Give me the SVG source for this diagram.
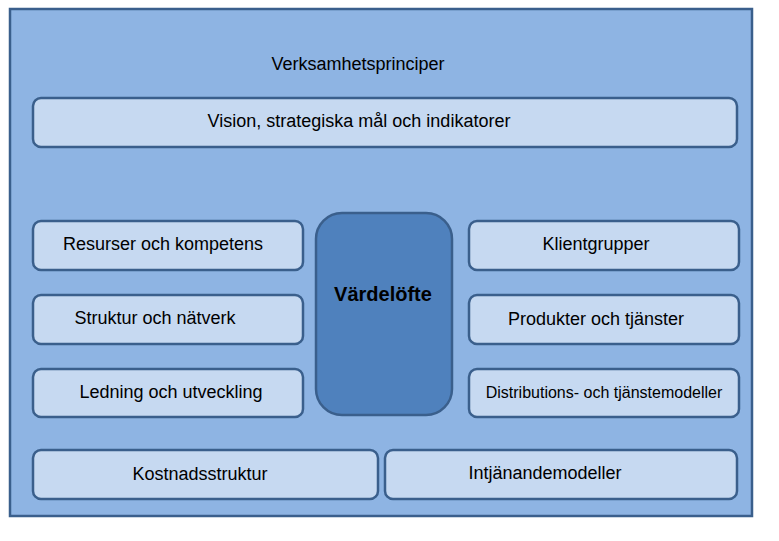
<svg xmlns="http://www.w3.org/2000/svg" width="779" height="541" viewBox="0 0 779 541">
<style>
text{font-family:"Liberation Sans",Arial,sans-serif;font-size:18px;fill:#000;text-anchor:middle}
.b{fill:#c6d9f1;stroke:#3a5f8c;stroke-width:2.5}
</style>
<rect width="779" height="541" fill="#fff"/>
<g id="frame"><rect x="10" y="9" width="742" height="507" fill="#8eb4e3" stroke="#3a5f8c" stroke-width="2.5"/>
<text x="358" y="70">Verksamhetsprinciper</text></g>
<g id="vision"><rect class="b" x="33" y="98" width="704" height="49" rx="8"/><text x="359" y="127">Vision, strategiska mål och indikatorer</text></g>
<g id="resurser"><rect class="b" x="33" y="221" width="270" height="49" rx="8"/><text x="163" y="250">Resurser och kompetens</text></g>
<g id="struktur"><rect class="b" x="33" y="295" width="270" height="49" rx="8"/><text x="155" y="324">Struktur och nätverk</text></g>
<g id="ledning"><rect class="b" x="33" y="369" width="270" height="48" rx="8"/><text x="171" y="398">Ledning och utveckling</text></g>
<g id="vardelofte"><rect x="316" y="213" width="136" height="202" rx="26" fill="#4f81bd" stroke="#3a5f8c" stroke-width="2.5"/><text x="383" y="301" style="font-weight:bold;font-size:20px">Värdelöfte</text></g>
<g id="klient"><rect class="b" x="469" y="221" width="270" height="49" rx="8"/><text x="596" y="250">Klientgrupper</text></g>
<g id="produkter"><rect class="b" x="469" y="295" width="270" height="49" rx="8"/><text x="596" y="325">Produkter och tjänster</text></g>
<g id="distribution"><rect class="b" x="469" y="369" width="270" height="48" rx="8"/><text x="604" y="398" style="font-size:16px">Distributions- och tjänstemodeller</text></g>
<g id="kostnad"><rect class="b" x="33" y="450" width="345" height="49" rx="8"/><text x="200" y="480">Kostnadsstruktur</text></g>
<g id="intjanande"><rect class="b" x="385" y="450" width="352" height="49" rx="8"/><text x="545" y="479">Intjänandemodeller</text></g>
<g id="connectors"/>
</svg>
